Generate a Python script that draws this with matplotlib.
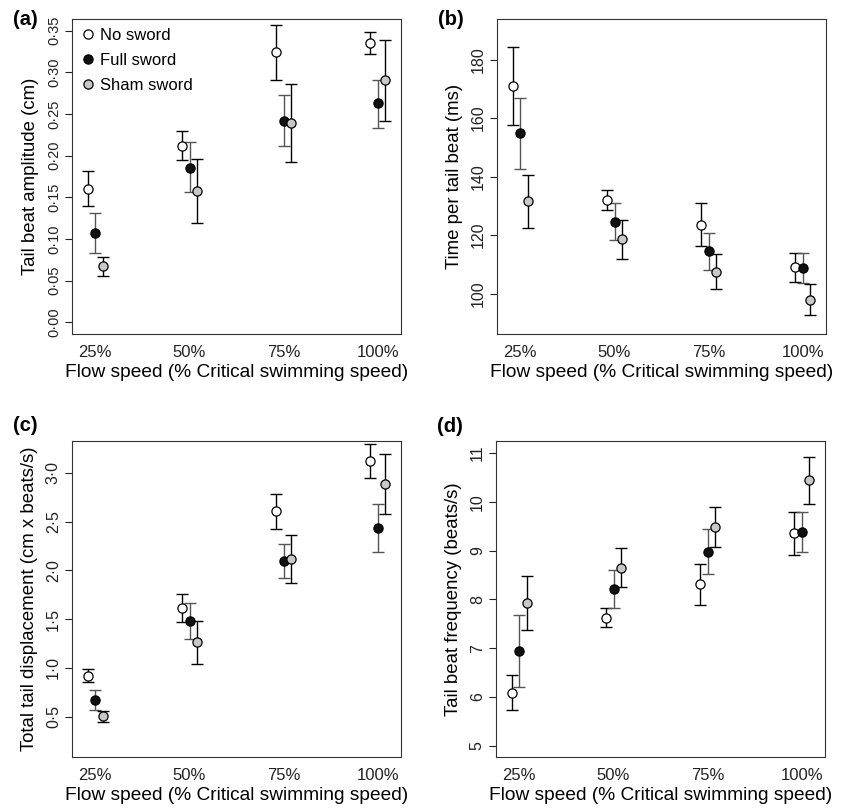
import numpy as np
import matplotlib
matplotlib.use("Agg")
import matplotlib.pyplot as plt
from matplotlib.ticker import FuncFormatter

plt.rcParams["font.family"] = ["Liberation Sans", "DejaVu Sans"]

# categories (flow speed, % critical swimming speed)
speeds = ["25%", "50%", "75%", "100%"]
groups = ["No sword", "Full sword", "Sham sword"]

# (a) tail beat amplitude (cm): mean, lower, upper
amp_mean = {"No sword": [0.160, 0.212, 0.324, 0.335],
            "Full sword": [0.107, 0.185, 0.242, 0.263],
            "Sham sword": [0.067, 0.158, 0.239, 0.291]}
amp_lo = {"No sword": [0.139, 0.195, 0.291, 0.322],
          "Full sword": [0.083, 0.156, 0.211, 0.233],
          "Sham sword": [0.056, 0.119, 0.192, 0.241]}
amp_hi = {"No sword": [0.182, 0.229, 0.357, 0.348],
          "Full sword": [0.131, 0.216, 0.273, 0.291],
          "Sham sword": [0.078, 0.196, 0.286, 0.339]}

# (b) time per tail beat (ms)
tpb_mean = {"No sword": [171.0, 132.0, 123.6, 109.0],
            "Full sword": [154.8, 124.5, 114.4, 108.9],
            "Sham sword": [131.5, 118.5, 107.5, 97.9]}
tpb_lo = {"No sword": [157.7, 128.6, 116.2, 103.9],
          "Full sword": [142.7, 118.3, 107.9, 103.6],
          "Sham sword": [122.5, 111.9, 101.7, 92.7]}
tpb_hi = {"No sword": [184.4, 135.4, 131.0, 114.0],
          "Full sword": [166.9, 131.0, 120.6, 114.0],
          "Sham sword": [140.5, 125.2, 113.6, 103.4]}

# (c) total tail displacement (cm x beats/s)
disp_mean = {"No sword": [0.921, 1.615, 2.607, 3.123],
             "Full sword": [0.668, 1.485, 2.094, 2.432],
             "Sham sword": [0.507, 1.263, 2.121, 2.884]}
disp_lo = {"No sword": [0.859, 1.475, 2.429, 2.949],
           "Full sword": [0.568, 1.300, 1.923, 2.186],
           "Sham sword": [0.445, 1.040, 1.875, 2.573]}
disp_hi = {"No sword": [0.989, 1.759, 2.785, 3.297],
           "Full sword": [0.770, 1.663, 2.268, 2.682],
           "Sham sword": [0.562, 1.482, 2.367, 3.191]}

# (d) tail beat frequency (beats/s)
freq_mean = {"No sword": [6.089, 7.628, 8.312, 9.358],
             "Full sword": [6.951, 8.209, 8.982, 9.379],
             "Sham sword": [7.929, 8.654, 9.488, 10.439]}
freq_lo = {"No sword": [5.726, 7.430, 7.881, 8.907],
           "Full sword": [6.205, 7.826, 8.524, 8.962],
           "Sham sword": [7.375, 8.244, 9.078, 9.960]}
freq_hi = {"No sword": [6.458, 7.826, 8.736, 9.796],
           "Full sword": [7.683, 8.599, 9.447, 9.796],
           "Sham sword": [8.483, 9.057, 9.899, 10.918]}

face = {"No sword": "white", "Full sword": "#111111", "Sham sword": "#c8c8c8"}
barcol = {"No sword": "black", "Full sword": "#555555", "Sham sword": "black"}
offset = {"No sword": -0.08, "Full sword": 0.0, "Sham sword": 0.08}

xlabel = "Flow speed (% Critical swimming speed)"

fig = plt.figure(figsize=(8.5, 8.1), dpi=100)
positions = [[0.0847, 0.5877, 0.387, 0.389], [0.5847, 0.5877, 0.387, 0.389],
             [0.0847, 0.0654, 0.387, 0.390], [0.5835, 0.0654, 0.387, 0.390]]

# tag, data, y label, y limits, y ticks, decimals, tick font size, tag height
panels = [
    ("(a)", amp_mean, amp_lo, amp_hi, "Tail beat amplitude (cm)",
     (-0.014, 0.364), np.arange(0, 0.351, 0.05), 2, 10.5, 1.028),
    ("(b)", tpb_mean, tpb_lo, tpb_hi, "Time per tail beat (ms)",
     (86.2, 193.9), [100, 120, 140, 160, 180], 0, 11.5, 1.028),
    ("(c)", disp_mean, disp_lo, disp_hi, "Total tail displacement (cm x beats/s)",
     (0.086, 3.325), [0.5, 1.0, 1.5, 2.0, 2.5, 3.0], 1, 11.5, 1.08),
    ("(d)", freq_mean, freq_lo, freq_hi, "Tail beat frequency (beats/s)",
     (4.767, 11.246), [5, 6, 7, 8, 9, 10, 11], 0, 11.5, 1.075),
]

x = np.arange(1, len(speeds) + 1)

for pos, (tag, mean, lo, hi, ylab, ylim, yticks, dec, ysize, ty) in zip(positions, panels):
    ax = fig.add_axes(pos)
    for g in groups:
        m = np.array(mean[g])
        err = [m - np.array(lo[g]), np.array(hi[g]) - m]
        ax.errorbar(x + offset[g], m, yerr=err, fmt="none", ecolor=barcol[g],
                    elinewidth=1.0, capsize=4, capthick=1.0, zorder=2)
        ax.plot(x + offset[g], m, "o", ms=6.6, mfc=face[g], mec="black",
                mew=0.9, ls="none", label=g, zorder=3)
    ax.set_xlim(0.752, 4.245)
    ax.set_ylim(*ylim)
    ax.set_xticks(x)
    ax.set_xticklabels(speeds)
    ax.set_yticks(yticks)
    ax.yaxis.set_major_formatter(FuncFormatter(
        lambda v, p, d=dec: f"{v:.{d}f}".replace(".", "\u00b7")))
    ax.tick_params(axis="x", length=0, labelsize=12, pad=8, colors="#222222")
    ax.tick_params(axis="y", length=5, width=0.8, labelsize=ysize, pad=3,
                   labelrotation=90, colors="#222222")
    for lab in ax.get_yticklabels():
        lab.set_va("center")
    for s in ax.spines.values():
        s.set_linewidth(0.8)
        s.set_color("#333333")
    ax.set_xlabel(xlabel, fontsize=13.8, labelpad=3)
    ax.set_ylabel(ylab, fontsize=13.4, labelpad=6)
    ax.text(-0.18, ty, tag, transform=ax.transAxes, fontsize=14.5,
            fontweight="bold", ha="left", va="top")
    if tag == "(a)":
        ax.legend(loc="upper left", frameon=False, fontsize=12, handletextpad=0.35,
                  handlelength=0.8, labelspacing=0.6, borderaxespad=0.15,
                  markerscale=1.0)

fig.savefig("out.png", dpi=100)
